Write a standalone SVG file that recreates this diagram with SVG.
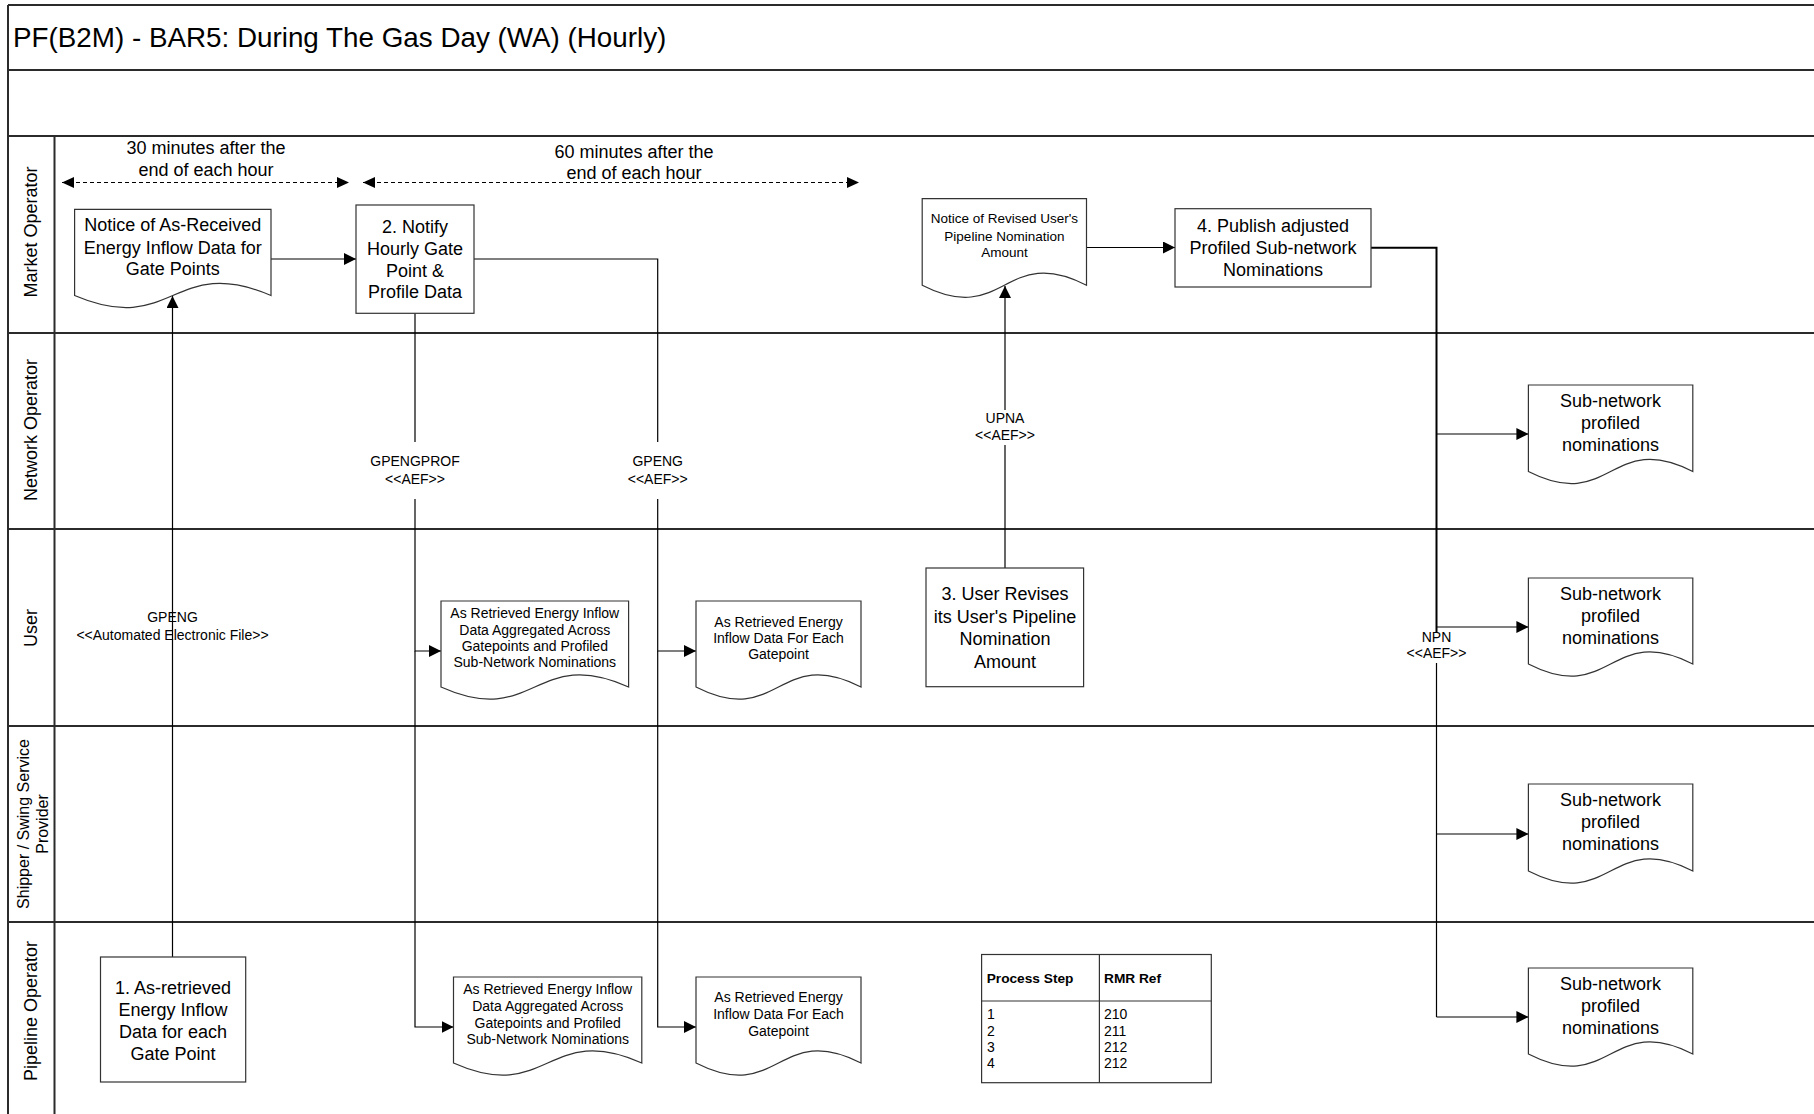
<svg xmlns="http://www.w3.org/2000/svg" width="1814" height="1114" viewBox="0 0 1814 1114">
<style>
text{font-family:"Liberation Sans",Arial,sans-serif;fill:#000}
.lane{stroke:#2b2b2b;stroke-width:2;fill:none}
.box{fill:#fff;stroke:#333;stroke-width:1.2}
.doc{fill:#fff;stroke:#333;stroke-width:1.2}
.t18{font-size:18px;text-anchor:middle}
.t14{font-size:14px;text-anchor:middle}
.t13{font-size:13.5px;text-anchor:middle}
.lbl{font-size:18px;text-anchor:middle}
.con{fill:none;stroke:#000;stroke-width:1.2}
.thick{fill:none;stroke:#000;stroke-width:2}
.dash{fill:none;stroke:#000;stroke-width:1.2;stroke-dasharray:4 3}
.bg{fill:#fff;stroke:none}
.tbl{fill:none;stroke:#333;stroke-width:1.2}
</style>
<defs>
<marker id="arr" markerUnits="userSpaceOnUse" markerWidth="12" markerHeight="12" refX="12" refY="6" orient="auto">
<path d="M0,0 L12,6 L0,12 Z" fill="#000"/>
</marker>
<marker id="arr2" markerUnits="userSpaceOnUse" markerWidth="12" markerHeight="12" refX="12" refY="6" orient="auto-start-reverse">
<path d="M0,0.5 L12,6 L0,11.5 Z" fill="#000"/>
</marker>
</defs>

<g id="frame">
<rect x="0" y="0" width="1814" height="1114" fill="#fff"/>
<path class="lane" d="M8,5 H1814 M8,70 H1814 M8,136 H1814 M8,333 H1814 M8,529 H1814 M8,726 H1814 M8,922 H1814 M8,5 V1114 M54.5,136 V1114"/>
<text x="13" y="47" font-size="27.8">PF(B2M) - BAR5: During The Gas Day (WA) (Hourly)</text>
<text class="lbl" transform="translate(37,232) rotate(-90)">Market Operator</text>
<text class="lbl" transform="translate(37,430) rotate(-90)">Network Operator</text>
<text class="lbl" transform="translate(37,628) rotate(-90)">User</text>
<text font-size="16" text-anchor="middle" transform="translate(29,824) rotate(-90)">Shipper / Swing Service</text>
<text font-size="16" text-anchor="middle" transform="translate(47.5,824) rotate(-90)">Provider</text>
<text class="lbl" transform="translate(37,1011) rotate(-90)">Pipeline Operator</text>
</g>

<g id="timing">
<text class="t18" x="206" y="154">30 minutes after the</text>
<text class="t18" x="206" y="176">end of each hour</text>
<path class="dash" d="M62,182.5 H349" marker-start="url(#arr2)" marker-end="url(#arr2)"/>
<text class="t18" x="634" y="158">60 minutes after the</text>
<text class="t18" x="634" y="179">end of each hour</text>
<path class="dash" d="M363,182.5 H859" marker-start="url(#arr2)" marker-end="url(#arr2)"/>
</g>

<g id="connectors">
<path class="con" d="M271,259 H356" marker-end="url(#arr)"/>
<path class="con" d="M474,259 H657.7 V651 H696" marker-end="url(#arr)"/>
<path class="con" d="M657.7,651 V1027 H696" marker-end="url(#arr)"/>
<path class="con" d="M415,313.3 V651 H441" marker-end="url(#arr)"/>
<path class="con" d="M415,651 V1027 H453.5" marker-end="url(#arr)"/>
<path class="con" d="M172.5,957 V296" marker-end="url(#arr)"/>
<path class="con" d="M1005,568 V286" marker-end="url(#arr)"/>
<path class="con" d="M1086.5,247.5 H1175" marker-end="url(#arr)"/>
<path class="thick" d="M1371,247.7 H1436.5 V632"/>
<path class="con" d="M1436.5,632 V1017"/>
<path class="con" d="M1436.5,434 H1528.4" marker-end="url(#arr)"/>
<path class="con" d="M1436.5,627 H1528.4" marker-end="url(#arr)"/>
<path class="con" d="M1436.5,834 H1528.4" marker-end="url(#arr)"/>
<path class="con" d="M1436.5,1017 H1528.4" marker-end="url(#arr)"/>
<rect class="bg" x="370" y="442" width="90" height="57"/>
<text class="t14" x="415" y="466">GPENGPROF</text>
<text class="t14" x="415" y="484">&lt;&lt;AEF&gt;&gt;</text>
<rect class="bg" x="625" y="442" width="66" height="57"/>
<text class="t14" x="657.7" y="466">GPENG</text>
<text class="t14" x="657.7" y="484">&lt;&lt;AEF&gt;&gt;</text>
<text class="t14" x="172.5" y="622">GPENG</text>
<text class="t14" x="172.5" y="640">&lt;&lt;Automated Electronic File&gt;&gt;</text>
<rect class="bg" x="972" y="410" width="66" height="35"/>
<text class="t14" x="1005" y="423">UPNA</text>
<text class="t14" x="1005" y="440">&lt;&lt;AEF&gt;&gt;</text>
<rect class="bg" x="1404" y="632" width="66" height="31"/>
<text class="t14" x="1436.5" y="642">NPN</text>
<text class="t14" x="1436.5" y="658">&lt;&lt;AEF&gt;&gt;</text>
</g>

<g id="doc-notice-received">
<path class="doc" d="M74.6,209.3 H271 V295.5 C172.8,253.5 172.8,337.5 74.6,295.5 Z"/>
<text class="t18" x="172.8" y="230.5">Notice of As-Received</text>
<text class="t18" x="172.8" y="253.5">Energy Inflow Data for</text>
<text class="t18" x="172.8" y="274.5">Gate Points</text>
</g>

<g id="step2">
<rect class="box" x="356" y="205" width="118" height="108.3"/>
<text class="t18" x="415" y="233">2. Notify</text>
<text class="t18" x="415" y="254.5">Hourly Gate</text>
<text class="t18" x="415" y="276.5">Point &amp;</text>
<text class="t18" x="415" y="298">Profile Data</text>
</g>

<g id="doc-notice-revised">
<path class="doc" d="M922.2,198.7 H1086.5 V285.2 C1004.4,243.2 1004.4,327.2 922.2,285.2 Z"/>
<text class="t13" x="1004.4" y="223">Notice of Revised User's</text>
<text class="t13" x="1004.4" y="240.5">Pipeline Nomination</text>
<text class="t13" x="1004.4" y="257">Amount</text>
</g>

<g id="step4">
<rect class="box" x="1175" y="208.7" width="196" height="78.3"/>
<text class="t18" x="1273" y="231.5">4. Publish adjusted</text>
<text class="t18" x="1273" y="253.5">Profiled Sub-network</text>
<text class="t18" x="1273" y="275.5">Nominations</text>
</g>

<g id="step3">
<rect class="box" x="926" y="568" width="157.6" height="118.7"/>
<text class="t18" x="1005" y="599.5">3. User Revises</text>
<text class="t18" x="1005" y="622.5">its User's Pipeline</text>
<text class="t18" x="1005" y="644.5">Nomination</text>
<text class="t18" x="1005" y="667.5">Amount</text>
</g>

<g id="doc-agg-user">
<path class="doc" d="M441,601 H628.6 V687 C534.8,645 534.8,729 441,687 Z"/>
<text class="t14" x="534.8" y="618">As Retrieved Energy Inflow</text>
<text class="t14" x="534.8" y="635">Data Aggregated Across</text>
<text class="t14" x="534.8" y="651">Gatepoints and Profiled</text>
<text class="t14" x="534.8" y="667">Sub-Network Nominations</text>
</g>

<g id="doc-each-user">
<path class="doc" d="M696,601 H861 V687 C778.5,645 778.5,729 696,687 Z"/>
<text class="t14" x="778.5" y="627">As Retrieved Energy</text>
<text class="t14" x="778.5" y="643">Inflow Data For Each</text>
<text class="t14" x="778.5" y="659">Gatepoint</text>
</g>

<g id="doc-agg-pipe">
<path class="doc" d="M453.5,977 H641.8 V1063 C547.7,1021 547.7,1105 453.5,1063 Z"/>
<text class="t14" x="547.7" y="994">As Retrieved Energy Inflow</text>
<text class="t14" x="547.7" y="1011">Data Aggregated Across</text>
<text class="t14" x="547.7" y="1028">Gatepoints and Profiled</text>
<text class="t14" x="547.7" y="1044">Sub-Network Nominations</text>
</g>

<g id="doc-each-pipe">
<path class="doc" d="M696,977 H861 V1063 C778.5,1021 778.5,1105 696,1063 Z"/>
<text class="t14" x="778.5" y="1002">As Retrieved Energy</text>
<text class="t14" x="778.5" y="1019">Inflow Data For Each</text>
<text class="t14" x="778.5" y="1036">Gatepoint</text>
</g>

<g id="step1">
<rect class="box" x="100.5" y="957" width="145.2" height="125"/>
<text class="t18" x="173" y="993.5">1. As-retrieved</text>
<text class="t18" x="173" y="1015.5">Energy Inflow</text>
<text class="t18" x="173" y="1037.5">Data for each</text>
<text class="t18" x="173" y="1059.5">Gate Point</text>
</g>

<g id="doc-sub1">
<path class="doc" d="M1528.4,385 H1692.8 V471.5 C1610.6,429.5 1610.6,513.5 1528.4,471.5 Z"/>
<text class="t18" x="1610.6" y="406.5">Sub-network</text>
<text class="t18" x="1610.6" y="428.5">profiled</text>
<text class="t18" x="1610.6" y="450.5">nominations</text>
</g>
<g id="doc-sub2">
<path class="doc" d="M1528.4,578 H1692.8 V664 C1610.6,622 1610.6,706 1528.4,664 Z"/>
<text class="t18" x="1610.6" y="599.5">Sub-network</text>
<text class="t18" x="1610.6" y="621.5">profiled</text>
<text class="t18" x="1610.6" y="643.5">nominations</text>
</g>
<g id="doc-sub3">
<path class="doc" d="M1528.4,784 H1692.8 V871 C1610.6,829 1610.6,913 1528.4,871 Z"/>
<text class="t18" x="1610.6" y="805.5">Sub-network</text>
<text class="t18" x="1610.6" y="827.5">profiled</text>
<text class="t18" x="1610.6" y="849.5">nominations</text>
</g>
<g id="doc-sub4">
<path class="doc" d="M1528.4,968 H1692.8 V1054 C1610.6,1012 1610.6,1096 1528.4,1054 Z"/>
<text class="t18" x="1610.6" y="989.5">Sub-network</text>
<text class="t18" x="1610.6" y="1011.5">profiled</text>
<text class="t18" x="1610.6" y="1033.5">nominations</text>
</g>

<g id="rmr-table">
<rect class="tbl" x="981.6" y="954.5" width="229.7" height="128.2" fill="#fff"/>
<path class="tbl" d="M1099.4,954.5 V1082.7 M981.6,1001 H1211.3"/>
<text x="986.7" y="983" font-size="13.7" font-weight="bold">Process Step</text>
<text x="1104" y="983" font-size="13.7" font-weight="bold">RMR Ref</text>
<text x="987" y="1019" font-size="14">1</text>
<text x="987" y="1035.5" font-size="14">2</text>
<text x="987" y="1051.5" font-size="14">3</text>
<text x="987" y="1067.5" font-size="14">4</text>
<text x="1104" y="1019" font-size="14">210</text>
<text x="1104" y="1035.5" font-size="14">211</text>
<text x="1104" y="1051.5" font-size="14">212</text>
<text x="1104" y="1067.5" font-size="14">212</text>
</g>
</svg>
